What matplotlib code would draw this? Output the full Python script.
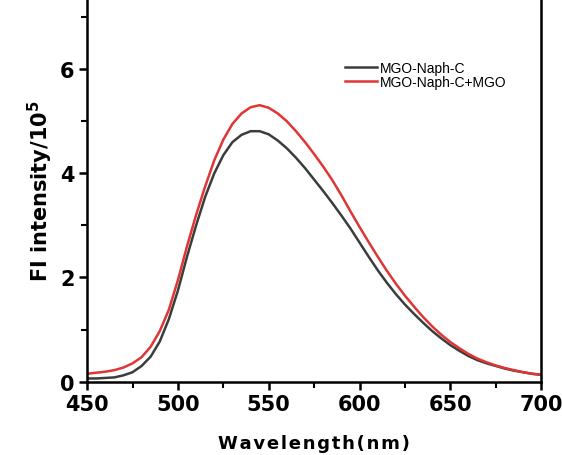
import numpy as np
import matplotlib.pyplot as plt
from matplotlib.ticker import MultipleLocator

plt.rcParams['font.family'] = ['DejaVu Sans']

wavelength = np.arange(450, 701, 5)

naph_c = [0.06, 0.06, 0.07, 0.08, 0.12, 0.18, 0.30, 0.48, 0.77, 1.20,
          1.75, 2.40, 3.00, 3.55, 4.00, 4.35, 4.60, 4.74, 4.81, 4.81,
          4.75, 4.63, 4.48, 4.30, 4.10, 3.88, 3.66, 3.43, 3.19, 2.94,
          2.67, 2.40, 2.14, 1.90, 1.68, 1.48, 1.30, 1.13, 0.97, 0.83,
          0.70, 0.59, 0.49, 0.41, 0.35, 0.30, 0.25, 0.21, 0.18, 0.15, 0.13]

naph_c_mgo = [0.15, 0.17, 0.19, 0.22, 0.27, 0.35, 0.47, 0.67, 0.97, 1.38,
              1.95, 2.60, 3.20, 3.75, 4.25, 4.65, 4.95, 5.15, 5.27, 5.31,
              5.26, 5.15, 5.00, 4.81, 4.60, 4.37, 4.13, 3.87, 3.58, 3.27,
              2.97, 2.68, 2.40, 2.13, 1.88, 1.65, 1.44, 1.24, 1.06, 0.90,
              0.76, 0.64, 0.53, 0.44, 0.37, 0.31, 0.26, 0.22, 0.18, 0.15, 0.13]

fig = plt.figure(figsize=(5.62, 4.56), dpi=100)
ax = fig.add_axes([0.155, 0.161, 0.808, 0.839])

ax.plot(wavelength, naph_c, color="#3c3c3c", lw=1.8, label="MGO-Naph-C")
ax.plot(wavelength, naph_c_mgo, color="#e03535", lw=1.8, label="MGO-Naph-C+MGO")

ax.set_xlim(450, 700)
ax.set_ylim(0, 7.35)
ax.xaxis.set_major_locator(MultipleLocator(50))
ax.xaxis.set_minor_locator(MultipleLocator(25))
ax.yaxis.set_major_locator(MultipleLocator(2))
ax.yaxis.set_minor_locator(MultipleLocator(1))

ax.spines['top'].set_visible(False)
for s in ['left', 'right', 'bottom']:
    ax.spines[s].set_linewidth(1.8)
ax.tick_params(which='major', direction='out', length=6, width=1.8,
               labelsize=15, pad=3)
ax.tick_params(which='minor', direction='out', length=4, width=1.5)
ax.tick_params(axis='y', which='both', right=False)
for lab in ax.get_xticklabels() + ax.get_yticklabels():
    lab.set_fontweight('bold')

ax.set_xlabel("\u200a".join("Wavelength(nm)"), fontsize=13,
              fontweight='bold', labelpad=14)
ax.set_ylabel(r"FI intensity/10$^\mathbf{5}$", fontsize=15,
              fontweight='bold', labelpad=4)

ax.legend(loc='upper left', bbox_to_anchor=(0.555, 0.853), frameon=False,
          prop={'family': 'Liberation Sans', 'size': 10},
          handlelength=2.3, handletextpad=0.2, labelspacing=0.02,
          borderaxespad=0)

fig.savefig("out.png", dpi=100)
